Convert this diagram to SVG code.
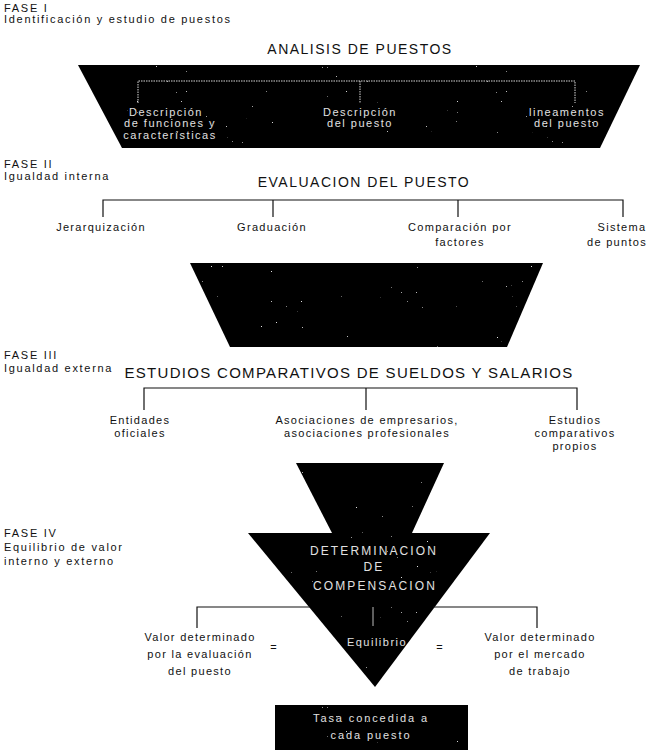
<svg xmlns="http://www.w3.org/2000/svg" width="654" height="750" viewBox="0 0 654 750">
  <style>
    text { font-family: "Liberation Sans", Arial, sans-serif; fill: #111; }
    .phase { font-size: 11px; letter-spacing: 1.7px; }
    .title { font-size: 14px; letter-spacing: 1.5px; text-anchor: middle; }
    .big { font-size: 15px; letter-spacing: 1.3px; text-anchor: middle; }
    .lbl { font-size: 11px; letter-spacing: 1.3px; text-anchor: middle; }
    .inv { font-size: 11px; letter-spacing: 1.5px; text-anchor: middle; fill: #e0e0e0; }
    .inv2 { font-size: 12px; letter-spacing: 2.1px; text-anchor: middle; fill: #e0e0e0; }
    .shape { fill: #050505; filter: url(#grain); }
    .line { stroke: #111; stroke-width: 1.2; fill: none; }
    .dot { stroke: #d8d8d8; stroke-width: 1; stroke-dasharray: 1.5 1; fill: none; }
    .lite { stroke: #bbb; stroke-width: 1; fill: none; }
  </style>
  <defs>
    <!-- sparse light speckles over the dark fills -->
    <filter id="grain" x="0" y="0" width="100%" height="100%">
      <feTurbulence type="fractalNoise" baseFrequency="0.8" numOctaves="1" seed="7" result="noise"/>
      <feColorMatrix in="noise" type="matrix" result="dots"
        values="0 0 0 0 0.75  0 0 0 0 0.75  0 0 0 0 0.75  20 0 0 0 -15.4"/>
      <feComposite in="dots" in2="SourceGraphic" operator="in" result="speck"/>
      <feMerge>
        <feMergeNode in="SourceGraphic"/>
        <feMergeNode in="speck"/>
      </feMerge>
    </filter>
  </defs>

  <!-- Phase captions -->
  <g id="phase-labels">
    <text class="phase" x="4" y="12">FASE I</text>
    <text class="phase" x="4" y="23">Identificación y estudio de puestos</text>
    <text class="phase" x="4" y="168">FASE II</text>
    <text class="phase" x="4" y="180">Igualdad interna</text>
    <text class="phase" x="4" y="359">FASE III</text>
    <text class="phase" x="4" y="372">Igualdad externa</text>
    <text class="phase" x="4" y="537">FASE IV</text>
    <text class="phase" x="4" y="551">Equilibrio de valor</text>
    <text class="phase" x="4" y="565">interno y externo</text>
  </g>

  <!-- Phase I: job analysis -->
  <g id="analisis">
    <text class="title" x="360" y="54">ANALISIS DE PUESTOS</text>
    <polygon class="shape" points="78,65 640,65 600,148 122,148"/>
    <text class="inv" x="166" y="116">Descripción</text>
    <text class="inv" x="170" y="127">de funciones y</text>
    <text class="inv" x="170" y="139">características</text>
    <text class="inv" x="360" y="116">Descripción</text>
    <text class="inv" x="360" y="127">del puesto</text>
    <text class="inv" x="567" y="116">lineamentos</text>
    <text class="inv" x="567" y="127">del puesto</text>
  </g>

  <!-- Phase II: job evaluation -->
  <g id="evaluacion">
    <text class="title" x="364" y="187">EVALUACION DEL PUESTO</text>
    <text class="lbl" x="101" y="231">Jerarquización</text>
    <text class="lbl" x="272" y="231">Graduación</text>
    <text class="lbl" x="460" y="231">Comparación por</text>
    <text class="lbl" x="460" y="246">factores</text>
    <text class="lbl" x="622" y="231">Sistema</text>
    <text class="lbl" x="617" y="246">de puntos</text>
    <polygon class="shape" points="190,263 543,263 507,347 230,347"/>
  </g>

  <!-- Phase III: salary surveys -->
  <g id="estudios">
    <text class="big" x="349" y="378">ESTUDIOS COMPARATIVOS DE SUELDOS Y SALARIOS</text>
    <text class="lbl" x="140" y="424">Entidades</text>
    <text class="lbl" x="140" y="437">oficiales</text>
    <text class="lbl" x="367" y="424">Asociaciones de empresarios,</text>
    <text class="lbl" x="367" y="437">asociaciones profesionales</text>
    <text class="lbl" x="575" y="424">Estudios</text>
    <text class="lbl" x="575" y="437">comparativos</text>
    <text class="lbl" x="575" y="450">propios</text>
    <polygon class="shape" points="296,463 444,463 412,533 332,533"/>
  </g>

  <!-- Phase IV: balance of internal and external value -->
  <g id="compensacion">
    <polygon class="shape" points="248,533 490,533 375,687"/>
    <text class="inv2" x="374" y="555">DETERMINACION</text>
    <text class="inv2" x="374" y="571">DE</text>
    <text class="inv2" x="375" y="590">COMPENSACION</text>
    <text class="inv" x="377" y="646">Equilibrio</text>
  </g>
  <g id="valor-interno">
    <text class="lbl" x="200" y="641">Valor determinado</text>
    <text class="lbl" x="200" y="658">por la evaluación</text>
    <text class="lbl" x="200" y="675">del puesto</text>
    <text class="lbl" x="274" y="651">=</text>
  </g>
  <g id="valor-externo">
    <text class="lbl" x="440" y="651">=</text>
    <text class="lbl" x="540" y="641">Valor determinado</text>
    <text class="lbl" x="540" y="658">por el mercado</text>
    <text class="lbl" x="540" y="675">de trabajo</text>
  </g>
  <g id="tasa">
    <rect class="shape" x="275" y="705" width="193" height="45"/>
    <text class="inv" x="371" y="722" style="letter-spacing:1.9px">Tasa concedida a</text>
    <text class="inv" x="371" y="739" style="letter-spacing:1.9px">cada puesto</text>
  </g>

  <!-- Bracket connectors -->
  <g id="connectors">
    <path class="dot" d="M138,103 V81 H575 V103 M360,81 V103"/>
    <path class="line" d="M103,217 V200 H623 V217 M273,200 V217 M458,200 V217"/>
    <path class="line" d="M144,410 V388 H577 V410 M366,388 V410"/>
    <path class="line" d="M197,628 V607 H310 M433,607 H537 V628"/>
    <path class="lite" d="M373,607 V626"/>
  </g>
</svg>
